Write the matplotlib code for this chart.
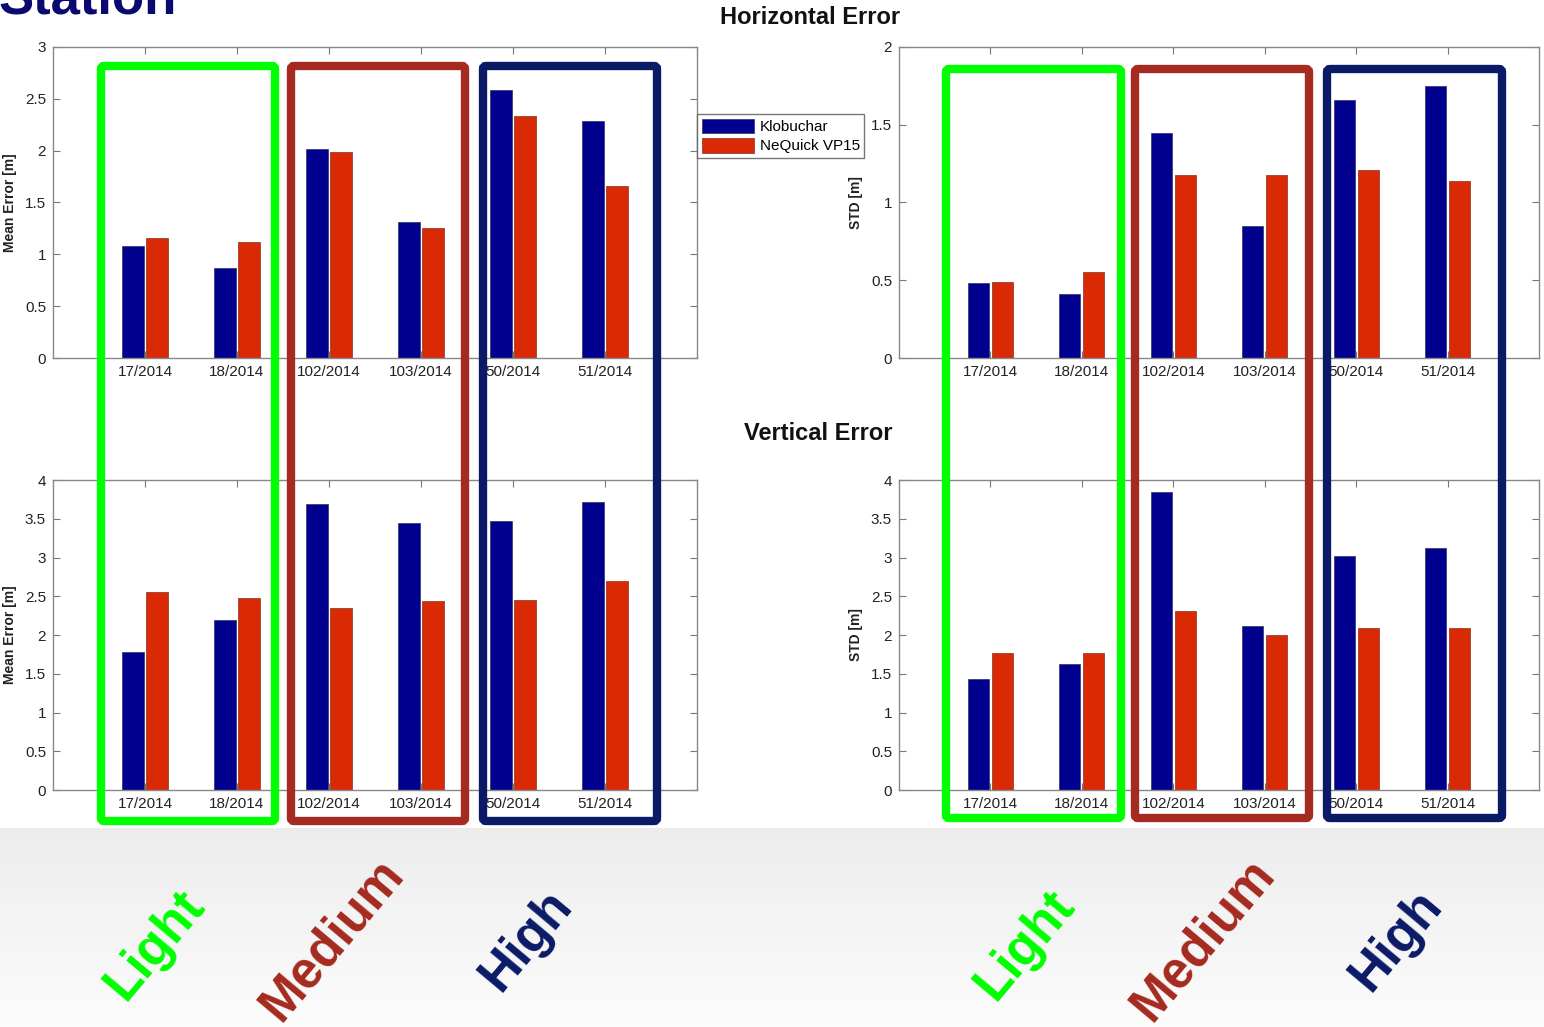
import numpy as np
import matplotlib
matplotlib.use("Agg")
import matplotlib.pyplot as plt
from matplotlib.patches import FancyBboxPatch

plt.rcParams["font.family"] = ["Liberation Sans", "DejaVu Sans"]

# data
days = ["17/2014", "18/2014", "102/2014", "103/2014", "50/2014", "51/2014"]
series = ["Klobuchar", "NeQuick VP15"]

horiz_mean_klob = [1.08, 0.87, 2.02, 1.31, 2.59, 2.29]
horiz_mean_neq = [1.16, 1.12, 1.99, 1.25, 2.33, 1.66]
horiz_std_klob = [0.48, 0.41, 1.45, 0.85, 1.66, 1.75]
horiz_std_neq = [0.49, 0.55, 1.18, 1.18, 1.21, 1.14]
vert_mean_klob = [1.78, 2.19, 3.69, 3.45, 3.47, 3.72]
vert_mean_neq = [2.55, 2.48, 2.35, 2.44, 2.45, 2.70]
vert_std_klob = [1.43, 1.63, 3.85, 2.12, 3.02, 3.12]
vert_std_neq = [1.77, 1.77, 2.31, 2.00, 2.09, 2.09]

activity = ["Light", "Medium", "High"]
activity_colors = ["#00ff00", "#a52a1f", "#0b1a66"]

blue = "#00008f"
red = "#da2a05"

W, H = 1544, 1027
fig = plt.figure(figsize=(W / 100, H / 100), dpi=100)
fig.patch.set_facecolor("white")

# overlay axes in pixel coordinates for the background band
over = fig.add_axes([0, 0, 1, 1], zorder=0)
over.set_xlim(0, W)
over.set_ylim(H, 0)
over.axis("off")
grad = np.linspace(0.925, 0.985, 50).reshape(-1, 1)
over.imshow(grad, cmap="gray", vmin=0, vmax=1, extent=(0, W, H, 828), aspect="auto")
over.set_xlim(0, W)
over.set_ylim(H, 0)


def px_axes(x0, y0, x1, y1):
    return fig.add_axes([x0 / W, 1 - y1 / H, (x1 - x0) / W, (y1 - y0) / H], zorder=1)


def bar_panel(ax, klob, neq, ymax, ylabel):
    x = np.arange(1, len(days) + 1)
    ax.bar(x - 0.13, klob, width=0.23, color=blue, edgecolor="#303060", lw=0.5, label=series[0])
    ax.bar(x + 0.13, neq, width=0.23, color=red, edgecolor="#803020", lw=0.5, label=series[1])
    ax.set_xlim(0, 7)
    ax.set_ylim(0, ymax)
    ax.set_xticks(x)
    ax.set_xticklabels(days, fontsize=11, color="#222222")
    yt = np.arange(0, ymax + 0.01, 0.5)
    ax.set_yticks(yt)
    ax.set_yticklabels(["{:g}".format(v) for v in yt], fontsize=11, color="#222222")
    ax.tick_params(direction="in", top=True, right=True, length=5, color="#777777", pad=5)
    for s in ax.spines.values():
        s.set_color("#888888")
        s.set_linewidth(1.0)
    ax.set_ylabel(ylabel, fontsize=10, fontweight="bold", color="#222222", labelpad=6)
    ax.set_facecolor("white")


ax_tl = px_axes(53, 47, 697, 358)
ax_tr = px_axes(899, 47, 1539, 358)
ax_bl = px_axes(53, 480, 697, 790)
ax_br = px_axes(899, 480, 1539, 790)

bar_panel(ax_tl, horiz_mean_klob, horiz_mean_neq, 3, "Mean Error [m]")
bar_panel(ax_tr, horiz_std_klob, horiz_std_neq, 2, "STD [m]")
bar_panel(ax_bl, vert_mean_klob, vert_mean_neq, 4, "Mean Error [m]")
bar_panel(ax_br, vert_std_klob, vert_std_neq, 4, "STD [m]")

ax_tl.legend(loc="upper left", bbox_to_anchor=(697 / W, 1 - 114 / H),
             bbox_transform=fig.transFigure, fontsize=11, frameon=True,
             fancybox=False, edgecolor="#555555", handlelength=3.4, handleheight=1.1,
             borderpad=0.3, labelspacing=0.25, handletextpad=0.4, borderaxespad=0)

# frames around activity groups, on top of everything
top = fig.add_axes([0, 0, 1, 1], zorder=5)
top.set_xlim(0, W)
top.set_ylim(H, 0)
top.axis("off")
frames_left = [(97, 279), (287, 469), (479, 661)]
frames_right = [(942, 1125), (1131, 1313), (1323, 1506)]
for frames, y0, y1 in [(frames_left, 62, 825), (frames_right, 65, 822)]:
    for (x0, x1), c in zip(frames, activity_colors):
        top.add_patch(FancyBboxPatch((x0 + 4, y0 + 4), x1 - x0 - 8, y1 - y0 - 8,
                                     boxstyle="round,pad=0,rounding_size=3",
                                     fc="none", ec=c, lw=6))

# rotated activity labels
label_pos_left = [(155, 945), (332, 940), (527, 940)]
label_pos_right = [(1025, 945), (1203, 940), (1397, 940)]
for pos in [label_pos_left, label_pos_right]:
    for (x, y), name, c in zip(pos, activity, activity_colors):
        top.text(x, y, name, rotation=50, ha="center", va="center", color=c,
                 fontsize=37, fontweight="bold")

# titles
fig.text(810 / W, 1 - 18 / H, "Horizontal Error", ha="center", va="center", fontsize=17,
         fontweight="bold", color="#111111")
fig.text(818 / W, 1 - 433 / H, "Vertical Error", ha="center", va="center", fontsize=17,
         fontweight="bold", color="#111111")
fig.text(-2 / W, 1 - 13 / H, "Station", ha="left", va="baseline", fontsize=38,
         fontweight="bold", color="#0a0a6e")

fig.savefig("out.png", dpi=100)
